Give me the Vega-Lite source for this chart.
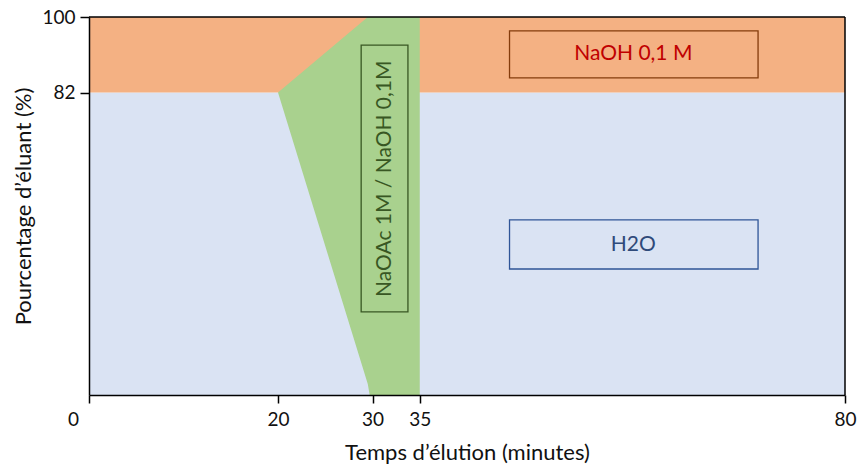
{
  "$schema": "https://vega.github.io/schema/vega-lite/v6.json",
  "width": 756,
  "height": 378,
  "autosize": "none",
  "padding": {"left": 89, "top": 17, "right": 19, "bottom": 79},
  "background": "white",
  "config": {"view": {"stroke": null}, "font": "Lato"},
  "datasets": {
    "regions": [
      {"eluant": "H2O", "t0": 0, "t1": 80, "p0": 10, "p1": 82},
      {"eluant": "NaOH 0,1 M", "t0": 0, "t1": 80, "p0": 82, "p1": 100}
    ],
    "gradient": [
      {"t": 20, "bas": 82, "haut": 82},
      {"t": 29.5, "bas": 12.6, "haut": 100},
      {"t": 29.7, "bas": 10, "haut": 100},
      {"t": 35, "bas": 10, "haut": 100}
    ],
    "frame": [
      {"t0": 0, "t1": 80, "p0": 100, "p1": 100},
      {"t0": 80, "t1": 80, "p0": 10, "p1": 100}
    ],
    "boxes": [
      {"label": "NaOH 0,1 M", "t0": 44.5, "t1": 70.8, "p0": 85.5, "p1": 96.7, "tc": 57.6, "pc": 91.1},
      {"label": "H2O", "t0": 44.5, "t1": 70.8, "p0": 40, "p1": 51.7, "tc": 57.6, "pc": 45.8},
      {"label": "NaOAc 1M / NaOH 0,1M", "t0": 28.8, "t1": 33.75, "p0": 29.8, "p1": 93.3, "tc": 31.3, "pc": 61.5}
    ]
  },
  "layer": [
    {
      "data": {"name": "regions"},
      "mark": {"type": "rect", "clip": true},
      "encoding": {
        "x": {
          "field": "t0", "type": "quantitative",
          "scale": {"domain": [0, 80], "nice": false, "zero": false},
          "axis": {
            "values": [0, 20, 30, 35, 80],
            "title": "Temps d’élution (minutes)",
            "grid": false,
            "zindex": 1,
            "domainColor": "#000", "domainWidth": 1.5,
            "tickColor": "#000", "tickWidth": 1.5, "tickSize": 8,
            "labelFontSize": 19, "labelColor": "#111", "labelPadding": 7,
            "labelFlush": false,
            "labelOffset": {"condition": {"test": "datum.value === 0", "value": -16}, "value": 0},
            "titleFontSize": 22, "titleFontWeight": "normal", "titleColor": "#111", "titlePadding": 13,
            "encode": {"ticks": {"update": {"y": {"value": -8}, "y2": {"value": 8}}}}
          }
        },
        "x2": {"field": "t1"},
        "y": {
          "field": "p0", "type": "quantitative",
          "scale": {"domain": [10, 100], "nice": false, "zero": false},
          "axis": {
            "values": [82, 100],
            "title": "Pourcentage d’éluant (%)",
            "grid": false,
            "zindex": 1,
            "domainColor": "#000", "domainWidth": 1.5,
            "tickColor": "#000", "tickWidth": 1.5, "tickSize": 9,
            "labelFontSize": 19, "labelColor": "#111", "labelPadding": 5,
            "labelFlush": false,
            "titleFontSize": 22, "titleFontWeight": "normal", "titleColor": "#111", "titlePadding": 6
          }
        },
        "y2": {"field": "p1"},
        "color": {
          "field": "eluant", "type": "nominal",
          "scale": {"domain": ["H2O", "NaOH 0,1 M"], "range": ["#DAE3F3", "#F4B183"]},
          "legend": null
        }
      }
    },
    {
      "data": {"name": "gradient"},
      "mark": {"type": "area", "color": "#A9D18E", "opacity": 1, "clip": true},
      "encoding": {
        "x": {"field": "t", "type": "quantitative"},
        "y": {"field": "bas", "type": "quantitative"},
        "y2": {"field": "haut"}
      }
    },
    {
      "data": {"name": "frame"},
      "mark": {"type": "rule", "color": "#000", "strokeWidth": 1.5},
      "encoding": {
        "x": {"field": "t0", "type": "quantitative"},
        "x2": {"field": "t1"},
        "y": {"field": "p0", "type": "quantitative"},
        "y2": {"field": "p1"}
      }
    },
    {
      "data": {"name": "boxes"},
      "mark": {"type": "rect", "fill": "transparent", "strokeWidth": 1.3},
      "encoding": {
        "x": {"field": "t0", "type": "quantitative"},
        "x2": {"field": "t1"},
        "y": {"field": "p0", "type": "quantitative"},
        "y2": {"field": "p1"},
        "stroke": {
          "condition": [
            {"test": "datum.label === 'H2O'", "value": "#2F5597"},
            {"test": "datum.label === 'NaOH 0,1 M'", "value": "#843C0C"}
          ],
          "value": "#385723"
        }
      }
    },
    {
      "data": {"name": "boxes"},
      "transform": [{"filter": "datum.label !== 'NaOAc 1M / NaOH 0,1M'"}],
      "mark": {"type": "text", "fontSize": 21, "align": "center", "baseline": "middle"},
      "encoding": {
        "x": {"field": "tc", "type": "quantitative"},
        "y": {"field": "pc", "type": "quantitative"},
        "text": {"field": "label"},
        "color": {
          "condition": {"test": "datum.label === 'H2O'", "value": "#2F4A7A"},
          "value": "#C00000"
        }
      }
    },
    {
      "data": {"name": "boxes"},
      "transform": [{"filter": "datum.label === 'NaOAc 1M / NaOH 0,1M'"}],
      "mark": {"type": "text", "fontSize": 21, "align": "center", "baseline": "middle", "angle": 270, "color": "#385723"},
      "encoding": {
        "x": {"field": "tc", "type": "quantitative"},
        "y": {"field": "pc", "type": "quantitative"},
        "text": {"field": "label"}
      }
    }
  ]
}
